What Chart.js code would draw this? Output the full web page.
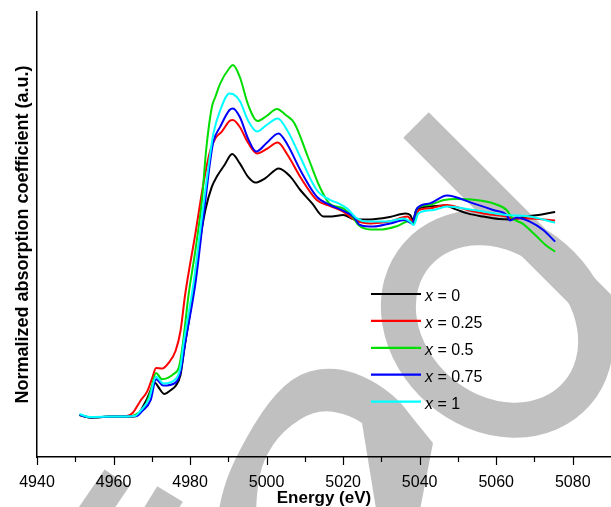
<!DOCTYPE html>
<html>
<head>
<meta charset="utf-8">
<script src="https://cdn.jsdelivr.net/npm/chart.js@4.4.0/dist/chart.umd.min.js"></script>
<style>
  html, body { margin: 0; padding: 0; background: #fff; overflow: hidden; }
  #wrap { position: relative; width: 611px; height: 507px; }
</style>
</head>
<body>
<div id="wrap"><canvas id="myChart"></canvas></div>
<script>
const seriesLabels = ["x = 0", "x = 0.25", "x = 0.5", "x = 0.75", "x = 1"];
const seriesColors = ["#000000", "#ff0000", "#00dd00", "#0000ff", "#00ffff"];

// x = 0
const energy0 = [4951.1, 4953.8, 4960, 4965.5, 4966.5, 4968.6, 4970.9, 4971.7, 4973.3, 4975.0, 4976.2, 4977.5, 4978.5, 4980.5, 4982.2, 4984.0, 4985.7, 4987.0, 4989.0, 4991.0, 4993.0, 4995.1, 4997.1, 4999.6, 5003.2, 5006.2, 5008.8, 5011.9, 5014.9, 5017, 5020, 5023, 5027.1, 5032.2, 5036.3, 5037.5, 5038.3, 5039.1, 5042.4, 5046.4, 5049.5, 5052.5, 5056.6, 5060.7, 5063.7, 5067.8, 5071.9, 5075.4];
const mu0 = [0.000, -0.012, -0.008, -0.008, 0.005, 0.075, 0.160, 0.140, 0.105, 0.125, 0.145, 0.200, 0.330, 0.575, 0.825, 1.025, 1.142, 1.192, 1.250, 1.305, 1.258, 1.192, 1.162, 1.183, 1.233, 1.192, 1.125, 1.058, 0.992, 0.992, 1.000, 0.978, 0.978, 0.990, 1.008, 1.000, 0.975, 1.025, 1.042, 1.047, 1.028, 1.008, 0.992, 0.980, 0.978, 0.992, 1.003, 1.015];

// x = 0.25
const energy1 = [4951.1, 4953.8, 4960, 4963.5, 4965, 4967, 4968.8, 4970.2, 4971.1, 4972.7, 4974.3, 4976.2, 4977.5, 4978.7, 4981.4, 4983.5, 4985.3, 4986.6, 4988.3, 4990.3, 4991.2, 4993, 4995.2, 4997.5, 5000, 5002.9, 5005.5, 5008.8, 5013.1, 5016.6, 5020, 5023, 5027.1, 5032.2, 5036.8, 5038.3, 5039.8, 5042.4, 5047, 5052.5, 5057.6, 5062.7, 5064.3, 5068.8, 5075.4];
const mu1 = [0.000, -0.012, -0.008, -0.005, 0.010, 0.070, 0.118, 0.190, 0.235, 0.232, 0.258, 0.320, 0.420, 0.600, 0.908, 1.158, 1.325, 1.383, 1.417, 1.470, 1.475, 1.440, 1.360, 1.308, 1.330, 1.362, 1.300, 1.190, 1.075, 1.045, 1.017, 0.975, 0.958, 0.967, 0.992, 0.967, 1.025, 1.033, 1.050, 1.025, 1.005, 0.992, 0.983, 0.983, 0.972];

// x = 0.5
const energy2 = [4951.1, 4953.8, 4960, 4965, 4966, 4967.9, 4969.7, 4971.1, 4972.7, 4975.7, 4977.1, 4978, 4979.6, 4981.4, 4983.1, 4984.2, 4985.7, 4986.6, 4987.9, 4990.3, 4991.2, 4993, 4995.2, 4997.6, 5000, 5002.7, 5005, 5007.3, 5010.8, 5013.9, 5016.4, 5020, 5022.5, 5024, 5027.1, 5030.2, 5034.2, 5037.3, 5038.3, 5039.3, 5042.4, 5046.4, 5049.5, 5054.6, 5059.7, 5062.7, 5064.3, 5066.8, 5069.8, 5072.9, 5075.4];
const mu2 = [0.000, -0.012, -0.008, -0.005, 0.005, 0.030, 0.118, 0.210, 0.179, 0.205, 0.240, 0.340, 0.600, 0.825, 1.075, 1.325, 1.540, 1.590, 1.658, 1.735, 1.750, 1.690, 1.550, 1.470, 1.495, 1.530, 1.500, 1.458, 1.290, 1.140, 1.058, 1.033, 0.990, 0.950, 0.928, 0.928, 0.945, 0.970, 0.955, 1.033, 1.050, 1.075, 1.080, 1.075, 1.055, 1.025, 0.983, 0.958, 0.908, 0.850, 0.817];

// x = 0.75
const energy3 = [4951.1, 4953.8, 4960, 4966, 4967.5, 4969.7, 4971.1, 4973, 4976.2, 4977.5, 4978.7, 4981.4, 4983.5, 4985.3, 4986.1, 4987.9, 4990.3, 4991.2, 4993, 4995.2, 4997.3, 5000, 5003.1, 5005.5, 5008.8, 5013.1, 5016.6, 5020.5, 5022.7, 5024.4, 5027.9, 5032.3, 5036.2, 5038, 5039.3, 5042.7, 5047.1, 5054, 5059.2, 5062.7, 5063.6, 5065.4, 5068.8, 5072.3, 5075.4];
const mu3 = [0.000, -0.012, -0.008, -0.005, 0.020, 0.074, 0.179, 0.147, 0.162, 0.214, 0.358, 0.658, 0.992, 1.275, 1.367, 1.442, 1.525, 1.533, 1.490, 1.380, 1.317, 1.360, 1.408, 1.350, 1.225, 1.092, 1.050, 1.017, 0.992, 0.950, 0.942, 0.958, 0.975, 0.958, 1.033, 1.058, 1.097, 1.058, 1.025, 1.000, 0.972, 0.988, 0.967, 0.925, 0.867];

// x = 1
const energy4 = [4951.1, 4953.8, 4960, 4965.5, 4967, 4969.3, 4971.1, 4973, 4976.2, 4977.4, 4978.3, 4980.9, 4983.1, 4984.8, 4986.1, 4987.9, 4990.3, 4991.2, 4993, 4995.2, 4997.5, 5000, 5002.9, 5005.5, 5008.8, 5013.1, 5016.6, 5018.8, 5021, 5023.6, 5026.2, 5031.4, 5035.7, 5037.5, 5038.4, 5039.7, 5043.6, 5047.1, 5054, 5062.7, 5068, 5075.4];
const mu4 = [0.005, -0.010, -0.008, -0.005, 0.020, 0.082, 0.191, 0.158, 0.179, 0.232, 0.358, 0.658, 0.992, 1.242, 1.408, 1.525, 1.608, 1.605, 1.570, 1.470, 1.417, 1.450, 1.483, 1.420, 1.290, 1.125, 1.075, 1.058, 1.033, 0.983, 0.967, 0.967, 0.983, 0.967, 0.950, 1.008, 1.025, 1.042, 1.025, 1.000, 0.995, 0.962];

const energies = [energy0, energy1, energy2, energy3, energy4];
const absorb = [mu0, mu1, mu2, mu3, mu4];

const FONT = "'Liberation Sans', Arial, sans-serif";

// smooth path through points, continuing the current subpath
function smoothPath(ctx, pts, start) {
  if (start) ctx.moveTo(pts[0][0], pts[0][1]);
  else ctx.lineTo(pts[0][0], pts[0][1]);
  for (let i = 1; i < pts.length - 1; i++) {
    const mx = (pts[i][0] + pts[i + 1][0]) / 2;
    const my = (pts[i][1] + pts[i + 1][1]) / 2;
    ctx.quadraticCurveTo(pts[i][0], pts[i][1], mx, my);
  }
  const last = pts[pts.length - 1];
  ctx.lineTo(last[0], last[1]);
}

// grey watermark strokes behind the plot
const watermark = {
  id: "watermark",
  beforeDraw(chart) {
    const ctx = chart.ctx;
    ctx.save();
    ctx.strokeStyle = "#c0c0c0";
    ctx.fillStyle = "#c0c0c0";
    ctx.lineCap = "butt";
    // "d" bowl
    ctx.lineWidth = 35;
    ctx.beginPath();
    ctx.ellipse(497, 324, 106, 88, 0.716, 0, Math.PI * 2);
    ctx.stroke();
    // "d" stem
    ctx.lineWidth = 36;
    ctx.beginPath();
    ctx.moveTo(416, 125);
    ctx.lineTo(760, 469);
    ctx.stroke();
    // "e": outer edge, tail, then inner edge back
    ctx.beginPath();
    smoothPath(ctx, [[218, 515], [222, 490], [239, 450], [269, 400], [300, 372], [337, 367], [371, 379], [398, 399], [411, 416], [433, 443]], true);
    ctx.lineTo(419, 515);
    ctx.lineTo(377, 515);
    smoothPath(ctx, [[362, 423], [351, 415], [317, 409], [283, 430], [263, 460], [257, 490], [256, 515]], false);
    ctx.closePath();
    ctx.fill();
    // bits at bottom left
    ctx.lineWidth = 30;
    ctx.beginPath();
    ctx.moveTo(117, 478);
    ctx.lineTo(78, 535);
    ctx.moveTo(170, 494);
    ctx.lineTo(148, 530);
    ctx.stroke();
    ctx.restore();
  },
};

// major/minor tick marks under the x axis
const tickMarks = {
  id: "tickMarks",
  afterDraw(chart) {
    const sx = chart.scales.x;
    const ctx = chart.ctx;
    const y0 = chart.chartArea.bottom;
    ctx.save();
    ctx.strokeStyle = "#000";
    ctx.lineWidth = 1.2;
    sx.ticks.forEach(t => {
      if (t.value > 5080) return;
      const px = Math.round(sx.getPixelForValue(t.value)) + 0.5;
      const len = t.value % 20 === 0 ? 8 : 5;
      ctx.beginPath();
      ctx.moveTo(px, y0);
      ctx.lineTo(px, y0 + len);
      ctx.stroke();
    });
    ctx.restore();
  },
};

// legend with italic x
const seriesKey = {
  id: "seriesKey",
  afterDraw(chart) {
    const ctx = chart.ctx;
    const a = chart.chartArea;
    const x0 = a.left + 334, y0 = a.top + 282, step = 26.9;
    ctx.save();
    chart.data.datasets.forEach((ds, i) => {
      const y = y0 + i * step;
      ctx.strokeStyle = ds.borderColor;
      ctx.lineWidth = 2.2;
      ctx.beginPath();
      ctx.moveTo(x0, y);
      ctx.lineTo(x0 + 50, y);
      ctx.stroke();
      ctx.fillStyle = "#000";
      ctx.textBaseline = "middle";
      ctx.font = "italic 16px " + FONT;
      ctx.fillText("x", x0 + 54, y + 3);
      const w = ctx.measureText("x").width;
      ctx.font = "16px " + FONT;
      ctx.fillText(ds.label.slice(1), x0 + 54 + w, y + 3);
    });
    ctx.restore();
  },
};

const data = {
  datasets: seriesLabels.map((lab, i) => ({
    label: lab,
    borderColor: seriesColors[i],
    backgroundColor: seriesColors[i],
    data: energies[i].map((e, j) => ({ x: e, y: absorb[i][j] })),
    order: 5 - i,
  })),
};

const config = {
  type: "line",
  data: data,
  options: {
    animation: false,
    responsive: true,
    maintainAspectRatio: false,
    layout: { padding: { top: 12, right: 0, bottom: 0, left: 0 } },
    elements: {
      point: { radius: 0 },
      line: { borderWidth: 2, cubicInterpolationMode: "monotone", fill: false },
    },
    plugins: {
      legend: { display: false },
      tooltip: { enabled: false },
    },
    scales: {
      x: {
        type: "linear",
        min: 4940,
        max: 5090,
        afterFit: (s) => { s.height = 50; s.paddingRight = 0; s.paddingLeft = 0; },
        border: { color: "#000", width: 1.5 },
        grid: { display: true, drawOnChartArea: false, drawTicks: false },
        ticks: {
          stepSize: 10,
          autoSkip: false,
          maxRotation: 0,
          padding: 16,
          color: "#000",
          font: { family: FONT, size: 16 },
          callback: (v) => (v % 20 === 0 && v < 5090 ? v : ""),
        },
        title: {
          display: true,
          text: "Energy (eV)",
          color: "#000",
          padding: 0,
          font: { family: FONT, size: 17, weight: "bold", lineHeight: 1 },
        },
      },
      y: {
        min: -0.21,
        max: 2.015,
        afterFit: (s) => { s.width = 37; },
        border: { color: "#000", width: 1.5 },
        grid: { display: true, drawOnChartArea: false, drawTicks: false },
        ticks: { display: false },
        title: {
          display: true,
          text: "Normalized absorption coefficient (a.u.)",
          color: "#000",
          padding: { top: 14, bottom: 0 },
          font: { family: FONT, size: 18, weight: "bold", lineHeight: 1 },
        },
      },
    },
  },
  plugins: [watermark, tickMarks, seriesKey],
};

const myChart = new Chart(document.getElementById("myChart"), config);
</script>
</body>
</html>
